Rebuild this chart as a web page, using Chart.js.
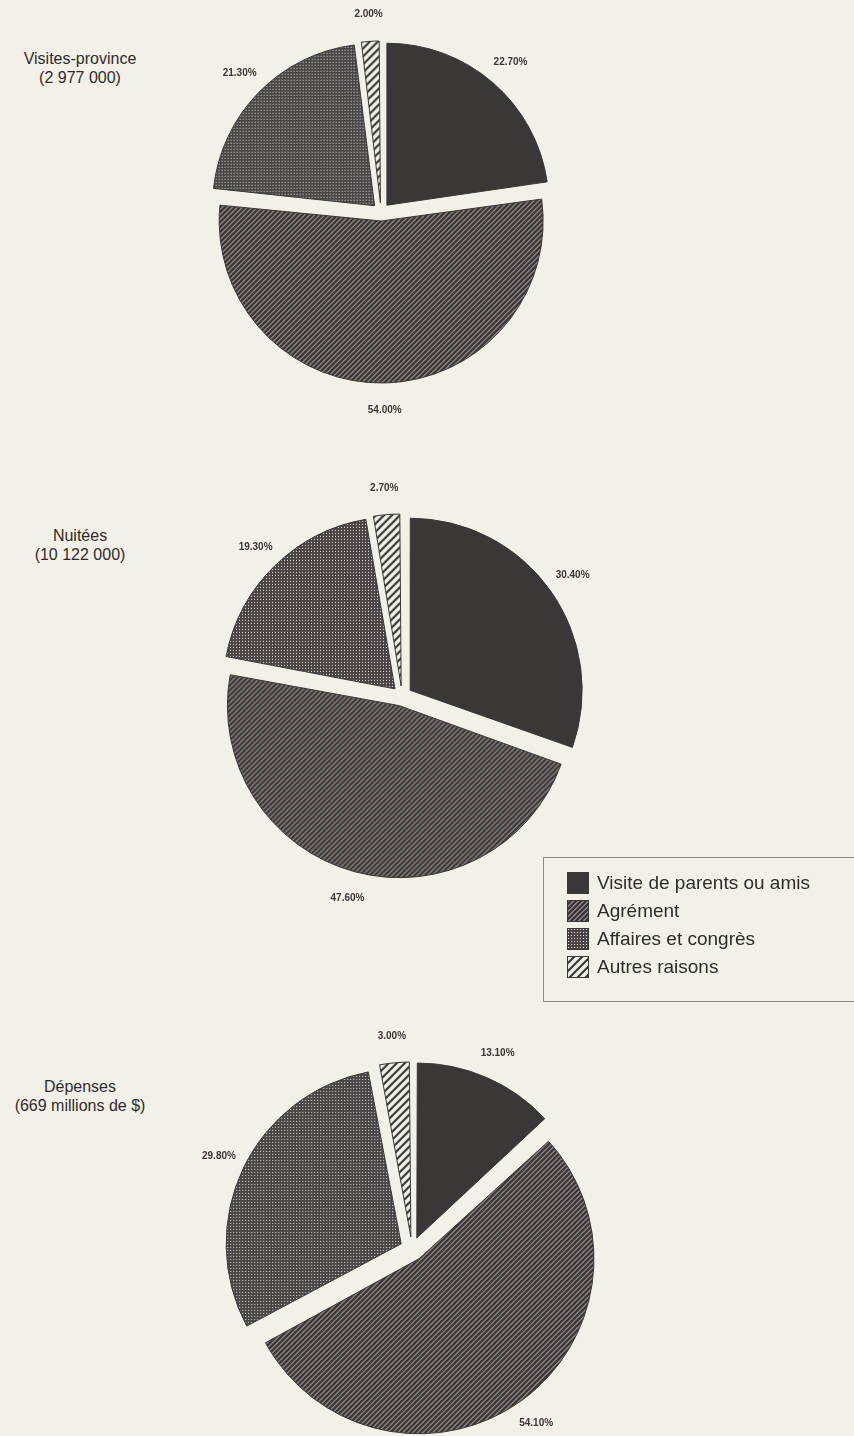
<!DOCTYPE html>
<html lang="fr">
<head>
<meta charset="utf-8">
<script src="https://cdn.jsdelivr.net/npm/chart.js@4.4.1/dist/chart.umd.min.js"></script>
<style>
  html, body { margin: 0; padding: 0; }
  body {
    width: 854px; height: 1436px; overflow: hidden; position: relative;
    background: #f3f0e9;
    font-family: "Liberation Sans", Arial, sans-serif;
    color: #2f2b2b;
  }
  .pie { position: absolute; }
  .title {
    position: absolute; left: 0; width: 160px;
    text-align: center; font-size: 16px; line-height: 19px;
  }
  .legend {
    position: absolute; left: 543px; top: 857px;
    width: 330px; height: 145px;
    border: 1px solid #8c8882; box-sizing: border-box;
  }
  .legend-row {
    position: absolute; left: 23px; height: 24px;
    display: flex; align-items: center;
    font-size: 19px; white-space: nowrap;
  }
  .legend-row canvas { margin-right: 8px; }
</style>
</head>
<body>

<div class="title" style="top:49px">Visites-province<br>(2 977 000)</div>
<div class="title" style="top:526px">Nuitées<br>(10 122 000)</div>
<div class="title" style="top:1077px">Dépenses<br>(669 millions de $)</div>

<canvas id="pie-visites" class="pie"></canvas>
<canvas id="pie-nuitees" class="pie"></canvas>
<canvas id="pie-depenses" class="pie"></canvas>

<div class="legend" id="legend"></div>

<script>
// data (percent shares, clockwise from 12 o'clock)
const reasons = ['Visite de parents ou amis', 'Agrément', 'Affaires et congrès', 'Autres raisons'];
const visitesShares = [22.7, 54.0, 21.3, 2.0];
const nuiteesShares = [30.4, 47.6, 19.3, 2.7];
const depensesShares = [13.1, 54.1, 29.8, 3.0];

const DARK = '#3b3737';
const PAPER = '#f3f0e9';
const CANVAS_SIZE = 500;

function makeTile(size, draw) {
  const c = document.createElement('canvas');
  c.width = size;
  c.height = size;
  draw(c.getContext('2d'), size);
  return c;
}

function diagonal(g, s, width) {
  g.strokeStyle = DARK;
  g.lineWidth = width;
  g.beginPath();
  g.moveTo(0, s); g.lineTo(s, 0);
  g.moveTo(-1, 1); g.lineTo(1, -1);
  g.moveTo(s - 1, s + 1); g.lineTo(s + 1, s - 1);
  g.stroke();
}

const tiles = [
  makeTile(4, (g, s) => { g.fillStyle = DARK; g.fillRect(0, 0, s, s); }),
  makeTile(5, (g, s) => { g.fillStyle = '#c9c4bc'; g.fillRect(0, 0, s, s); diagonal(g, s, 2.8); }),
  makeTile(3, (g, s) => {
    g.fillStyle = '#4a4646'; g.fillRect(0, 0, s, s);
    g.fillStyle = '#e4e0d8'; g.fillRect(1, 1, 1, 1);
  }),
  makeTile(8, (g, s) => { g.fillStyle = PAPER; g.fillRect(0, 0, s, s); diagonal(g, s, 2.2); })
];

function fillsFor(ctx) {
  return tiles.map(t => ctx.createPattern(t, 'repeat'));
}

// Chart.js grows big/small slices by offset/4 when exploding them; keep one radius for all
const keepRadius = {
  id: 'keepRadius',
  afterDatasetUpdate(chart, args) {
    args.meta.data.forEach(arc => {
      const off = (arc.options.offset || 0) / 4;
      const fix = 1 - Math.sin(Math.min(Math.PI, arc.circumference));
      arc.outerRadius -= off * fix;
    });
  }
};

const percentLabels = {
  id: 'percentLabels',
  afterDatasetsDraw(chart, args, opts) {
    const ctx = chart.ctx;
    const ds = chart.data.datasets[0];
    const meta = chart.getDatasetMeta(0);
    ctx.save();
    ctx.font = 'bold 10px "Liberation Sans", Arial, sans-serif';
    ctx.fillStyle = '#3a3535';
    ctx.textAlign = 'center';
    ctx.textBaseline = 'middle';
    meta.data.forEach((arc, i) => {
      const p = arc.getProps(['x', 'y', 'startAngle', 'endAngle'], true);
      const mid = (p.startAngle + p.endAngle) / 2;
      const dist = chart.options.radius + opts.explode + opts.gap;
      ctx.fillText(ds.data[i].toFixed(2) + '%', p.x + Math.cos(mid) * dist, p.y + Math.sin(mid) * dist);
    });
    ctx.restore();
  }
};

function makePie(id, shares, cx, cy, radius, explode) {
  const canvas = document.getElementById(id);
  canvas.width = CANVAS_SIZE;
  canvas.height = CANVAS_SIZE;
  canvas.style.left = (cx - CANVAS_SIZE / 2) + 'px';
  canvas.style.top = (cy - CANVAS_SIZE / 2) + 'px';
  const ctx = canvas.getContext('2d');

  return new Chart(ctx, {
    type: 'pie',
    data: {
      labels: reasons,
      datasets: [{
        data: shares,
        backgroundColor: fillsFor(ctx),
        borderColor: DARK,
        borderWidth: 1,
        offset: explode * 4
      }]
    },
    options: {
      responsive: false,
      animation: false,
      radius: radius,
      layout: { padding: 0 },
      plugins: {
        legend: { display: false },
        tooltip: { enabled: false },
        percentLabels: { gap: 27, explode: explode }
      }
    },
    plugins: [keepRadius, percentLabels]
  });
}

makePie('pie-visites', visitesShares, 381, 212, 162, 9);
makePie('pie-nuitees', nuiteesShares, 402, 696, 172, 10);
makePie('pie-depenses', depensesShares, 412, 1249, 175, 12);

// shared legend
const legend = document.getElementById('legend');
reasons.forEach((name, i) => {
  const row = document.createElement('div');
  row.className = 'legend-row';
  row.style.top = (13 + i * 28) + 'px';
  const sw = document.createElement('canvas');
  sw.width = 22;
  sw.height = 22;
  const g = sw.getContext('2d');
  g.fillStyle = g.createPattern(tiles[i], 'repeat');
  g.fillRect(0, 0, 22, 22);
  g.strokeStyle = DARK;
  g.lineWidth = 1;
  g.strokeRect(0.5, 0.5, 21, 21);
  row.appendChild(sw);
  row.appendChild(document.createTextNode(name));
  legend.appendChild(row);
});
</script>
</body>
</html>
